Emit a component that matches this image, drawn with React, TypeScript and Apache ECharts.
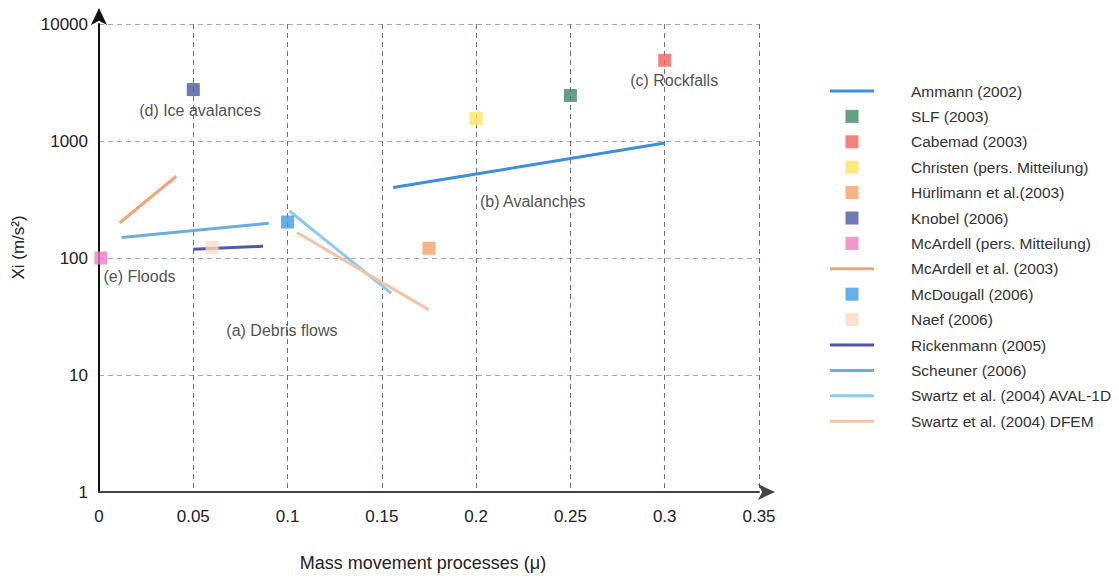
import React, { useEffect, useRef } from "react";
import * as echarts from "echarts";

const xTicks = [0, 0.05, 0.1, 0.15, 0.2, 0.25, 0.3, 0.35];
const yTicks = [1, 10, 100, 1000, 10000];

// point series: [mu, Xi]
const slf = [[0.25, 2450]];
const cabernad = [[0.3, 4900]];
const christen = [[0.2, 1560]];
const huerlimann = [[0.175, 121]];
const knobel = [[0.05, 2750]];
const mcardellPers = [[0.001, 100]];
const mcdougall = [[0.1, 203]];
const naef = [[0.06, 123]];

// line series
const ammann = [[0.156, 400], [0.3, 960]];
const mcardellEtAl = [[0.011, 200], [0.041, 500]];
const rickenmann = [[0.05, 119], [0.087, 126]];
const scheuner = [[0.012, 150], [0.09, 198]];
const swartzAval = [[0.101, 252], [0.155, 50]];
const swartzDfem = [[0.105, 165], [0.175, 36]];

const annotations = [
  { text: "(d) Ice avalances", value: [0.0536, 1840] },
  { text: "(c) Rockfalls", value: [0.305, 3260] },
  { text: "(b) Avalanches", value: [0.23, 307] },
  { text: "(e) Floods", value: [0.0215, 69] },
  { text: "(a) Debris flows", value: [0.097, 23.8] },
];

const SQUARE = "path://M0,0h10v10h-10z";
const LINEICON = "path://M0,0h44v3h-44z";

type S = { name: string; kind: "line" | "point"; color: string; data: number[][] };
const seriesDefs: S[] = [
  { name: "Ammann (2002)", kind: "line", color: "#3a8fdf", data: ammann },
  { name: "SLF (2003)", kind: "point", color: "#3f8a60", data: slf },
  { name: "Cabemad (2003)", kind: "point", color: "#f2625a", data: cabernad },
  { name: "Christen (pers. Mitteilung)", kind: "point", color: "#fde35c", data: christen },
  { name: "Hürlimann et al.(2003)", kind: "point", color: "#f5a062", data: huerlimann },
  { name: "Knobel (2006)", kind: "point", color: "#4b579f", data: knobel },
  { name: "McArdell (pers. Mitteilung)", kind: "point", color: "#f17cc2", data: mcardellPers },
  { name: "McArdell et al. (2003)", kind: "line", color: "#f4a474", data: mcardellEtAl },
  { name: "McDougall (2006)", kind: "point", color: "#3a9de6", data: mcdougall },
  { name: "Naef (2006)", kind: "point", color: "#f9dac4", data: naef },
  { name: "Rickenmann (2005)", kind: "line", color: "#5059a6", data: rickenmann },
  { name: "Scheuner (2006)", kind: "line", color: "#6aaddf", data: scheuner },
  { name: "Swartz et al. (2004) AVAL-1D", kind: "line", color: "#8ccaef", data: swartzAval },
  { name: "Swartz et al. (2004) DFEM", kind: "line", color: "#f5c3a4", data: swartzDfem },
];

export default function App() {
  const ref = useRef<HTMLDivElement>(null);
  useEffect(() => {
    if (!ref.current) return;
    const chart = echarts.init(ref.current, undefined, { renderer: "svg" });
    const font = "'Liberation Sans', Arial, sans-serif";
    const series: any[] = seriesDefs.map((s) =>
      s.kind === "line"
        ? {
            name: s.name,
            type: "line",
            data: s.data,
            showSymbol: false,
            symbol: "none",
            lineStyle: { color: s.color, width: 3 },
            itemStyle: { color: s.color },
            z: 3,
          }
        : {
            name: s.name,
            type: "scatter",
            data: s.data,
            symbol: "rect",
            symbolSize: 13,
            itemStyle: { color: s.color },
            z: 4,
          }
    );
    series.push({
      name: "annotations",
      type: "scatter",
      symbolSize: 0,
      data: annotations.map((a) => ({ value: a.value, name: a.text })),
      label: {
        show: true,
        position: "inside",
        formatter: (p: any) => p.name,
        color: "#222",
        fontSize: 16,
        fontFamily: font,
      },
      silent: true,
      z: 5,
    });
    chart.setOption({
      animation: false,
      backgroundColor: "#fff",
      textStyle: { fontFamily: font },
      grid: { left: 91, top: 16, width: 660, height: 468, containLabel: false, outerBoundsMode: "none" },
      legend: {
        orient: "vertical",
        left: 817,
        top: 70,
        itemWidth: 44,
        itemHeight: 13,
        itemGap: 9.4,
        selectedMode: false,
        data: seriesDefs.map((s) => ({
          name: s.name,
          icon: s.kind === "line" ? LINEICON : SQUARE,
          itemStyle: { color: s.color },
        })),
        textStyle: { fontSize: 15.5, color: "#333", fontFamily: font, padding: [0, 0, 0, 32] },
      },
      xAxis: {
        type: "value",
        min: 0,
        max: 0.35,
        interval: 0.05,
        name: "Mass movement processes (μ)",
        nameLocation: "middle",
        nameGap: 62,
        nameTextStyle: { fontSize: 18, color: "#222", fontFamily: font, padding: [0, 12, 0, 0] },
        axisLine: {
          show: true,
          onZero: false,
          symbol: ["none", "arrow"],
          symbolSize: [12, 17],
          symbolOffset: [0, 16],
          lineStyle: { color: "#444", width: 2 },
        },
        axisTick: { show: false },
        axisLabel: {
          margin: 15.5,
          fontSize: 17,
          color: "#222",
          fontFamily: font,
          formatter: (v: number) => {
            const t = xTicks.find((k) => Math.abs(k - v) < 1e-9);
            return t === undefined ? "" : String(t);
          },
        },
        splitLine: { show: true, lineStyle: { type: [5, 4], color: "#6a6fa6", width: 1 } },
      },
      yAxis: {
        type: "log",
        logBase: 10,
        min: 1,
        max: 10000,
        name: "{pad|}Xi (m/s²)",
        nameLocation: "middle",
        nameGap: 72,
        nameTextStyle: {
          fontSize: 17,
          color: "#222",
          fontFamily: font,
          rich: { pad: { width: 21, fontSize: 17 } },
        },
        axisLine: {
          show: true,
          onZero: false,
          symbol: ["none", "arrow"],
          symbolSize: [12, 17],
          symbolOffset: [0, 16],
          lineStyle: { color: "#111", width: 2 },
        },
        axisTick: { show: false },
        axisLabel: {
          margin: 11,
          fontSize: 17,
          color: "#222",
          fontFamily: font,
          formatter: (v: number) => {
            const t = yTicks.find((k) => Math.abs(k - v) < 1e-6 * k);
            return t === undefined ? "" : String(t);
          },
        },
        splitLine: { show: true, lineStyle: { type: [5, 4], color: "#a4a8c6", width: 1 } },
      },
      series,
    });
    return () => chart.dispose();
  }, []);
  return <div ref={ref} style={{ width: 1111, height: 571 }} />;
}
